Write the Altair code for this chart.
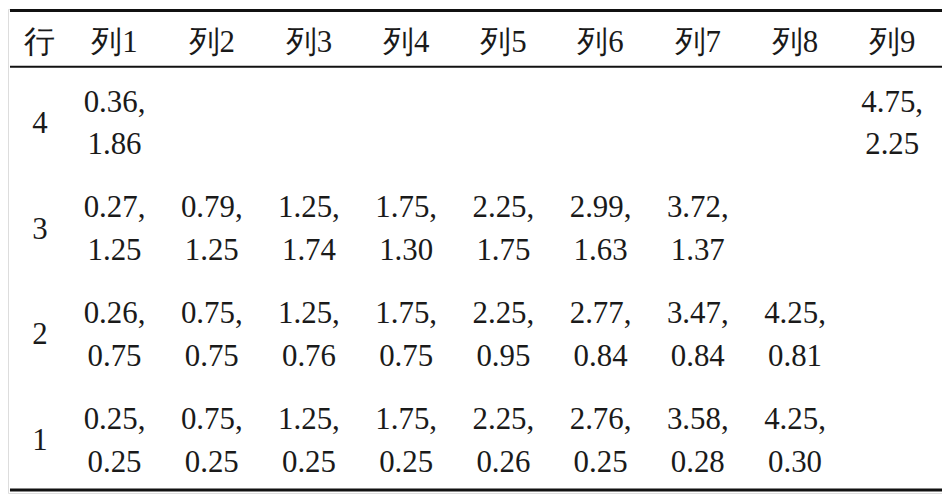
import altair as alt
import pandas as pd

header_label = "行"
columns = ["列1", "列2", "列3", "列4", "列5", "列6", "列7", "列8", "列9"]
row_labels = ["4", "3", "2", "1"]

# first / second value of each cell (None = empty)
r4_a = [0.36, None, None, None, None, None, None, None, 4.75]
r4_b = [1.86, None, None, None, None, None, None, None, 2.25]
r3_a = [0.27, 0.79, 1.25, 1.75, 2.25, 2.99, 3.72, None, None]
r3_b = [1.25, 1.25, 1.74, 1.30, 1.75, 1.63, 1.37, None, None]
r2_a = [0.26, 0.75, 1.25, 1.75, 2.25, 2.77, 3.47, 4.25, None]
r2_b = [0.75, 0.75, 0.76, 0.75, 0.95, 0.84, 0.84, 0.81, None]
r1_a = [0.25, 0.75, 1.25, 1.75, 2.25, 2.76, 3.58, 4.25, None]
r1_b = [0.25, 0.25, 0.25, 0.25, 0.26, 0.25, 0.28, 0.30, None]

rows_a = {"4": r4_a, "3": r3_a, "2": r2_a, "1": r1_a}
rows_b = {"4": r4_b, "3": r3_b, "2": r2_b, "1": r1_b}

cells = []
for r in row_labels:
    for c, a, b in zip(columns, rows_a[r], rows_b[r]):
        if a is not None:
            cells.append({"col": c, "row": r, "text": f"{a:.2f},\n{b:.2f}"})
cells_df = pd.DataFrame(cells)
head_df = pd.DataFrame({"col": columns, "text": columns})
corner_df = pd.DataFrame({"text": [header_label]})
rowlab_df = pd.DataFrame({"row": row_labels, "text": row_labels})

FONT = "Liberation Serif"
text_style = dict(fontSize=31, color="#1a1a1a", lineBreak="\n",
                  lineHeight=43, align="center", baseline="middle")

x_scale = alt.Scale(domain=columns, range=[107, 888], padding=0)
y_scale = alt.Scale(domain=row_labels, range=[115.5, 434], padding=0)

cell_text = alt.Chart(cells_df).mark_text(dy=-21.5, **text_style).encode(
    x=alt.X("col:N", scale=x_scale, axis=None),
    y=alt.Y("row:N", scale=y_scale, axis=None),
    text="text:N",
)
head_text = alt.Chart(head_df).mark_text(**text_style).encode(
    x=alt.X("col:N", scale=x_scale, axis=None),
    y=alt.value(34),
    text="text:N",
)
row_text = alt.Chart(rowlab_df).mark_text(**text_style).encode(
    x=alt.value(32),
    y=alt.Y("row:N", scale=y_scale, axis=None),
    text="text:N",
)
corner_text = alt.Chart(corner_df).mark_text(**text_style).encode(
    x=alt.value(32), y=alt.value(34), text="text:N",
)

top_rule = alt.Chart(corner_df).mark_rule(color="#111", strokeWidth=3).encode(
    x=alt.value(2), x2=alt.value(938), y=alt.value(1.5))
mid_rule = alt.Chart(corner_df).mark_rule(color="#111", strokeWidth=2).encode(
    x=alt.value(2), x2=alt.value(938), y=alt.value(58))
bot_rule = alt.Chart(corner_df).mark_rule(color="#111", strokeWidth=3).encode(
    x=alt.value(2), x2=alt.value(938), y=alt.value(483))

chart = alt.layer(cell_text, head_text, row_text, corner_text,
                  top_rule, mid_rule, bot_rule).properties(
    width=938, height=486, autosize=alt.AutoSizeParams(type="none"), padding=0,
    background="white"
).configure_view(stroke=None).configure(font=FONT).configure_text(font=FONT)

chart.save("out.html", embed_options={"renderer": "svg", "actions": False})
